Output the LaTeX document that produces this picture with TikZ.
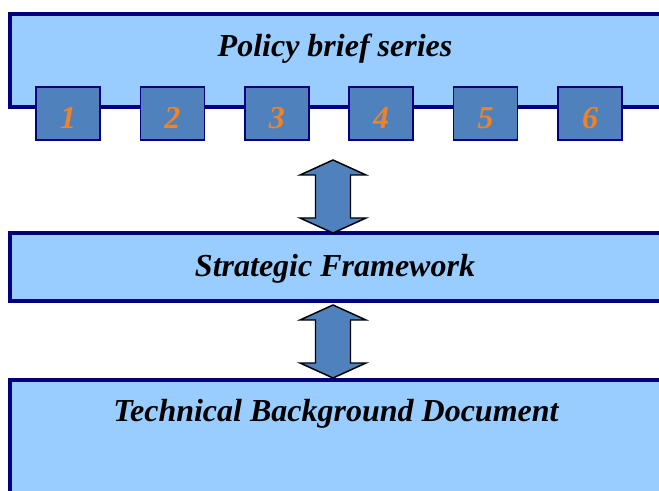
\documentclass[tikz,border=0pt]{standalone}
\usepackage{fontspec}
\setmainfont{Liberation Serif}[BoldItalicFont={Liberation Serif Bold Italic}]
\definecolor{boxfill}{HTML}{99CCFF}
\definecolor{boxline}{HTML}{000080}
\definecolor{numfill}{HTML}{4F81BD}
\definecolor{numtext}{HTML}{F58220}
% double headed block arrow: x, y of top tip, y of bottom tip
\newcommand{\dblarrow}[3]{%
	\draw[arrowshape] (#1,#2) -- (#1+33,#2+15) -- (#1+17.5,#2+15)
		-- (#1+17.5,#3-15) -- (#1+33,#3-15) -- (#1,#3) -- (#1-33,#3-15)
		-- (#1-17.5,#3-15) -- (#1-17.5,#2+15) -- (#1-33,#2+15) -- cycle;}
\begin{document}
\begin{tikzpicture}[x=0.75pt,y=-0.75pt,
	bigbox/.style={draw=boxline,fill=boxfill,line width=3pt},
	numbox/.style={draw=boxline,fill=numfill,line width=1.1pt,
		minimum width=48pt,minimum height=39.75pt,inner sep=0,
		text height=22pt,text depth=0pt,
		text=numtext,font=\bfseries\itshape\fontsize{24}{28}\selectfont},
	title/.style={font=\bfseries\itshape\fontsize{24}{28}\selectfont,inner sep=0},
	arrowshape/.style={draw=black,fill=numfill,line width=1.1pt,line join=miter}]
\useasboundingbox (0,0) rectangle (659,491);
\clip (0,0) rectangle (659,491);
% boxes
\draw[bigbox] (10,14.5) rectangle (700,107.5);
\draw[bigbox] (10,233.5) rectangle (700,300.5);
\draw[bigbox] (10,379.5) rectangle (700,520);
\node[title] (policy) at (335,49) {Policy brief series};
\node[title] (frame) at (335,269) {Strategic Framework};
\node[title] (tech) at (336,414) {Technical Background Document};
% the six briefs
\foreach \i in {1,...,6}
	\node[numbox] (brief\i) at ({68+104.4*(\i-1)},113.5) {\i};
% arrows
\dblarrow{333}{160}{233}
\dblarrow{333}{305}{378}
\end{tikzpicture}
\end{document}
